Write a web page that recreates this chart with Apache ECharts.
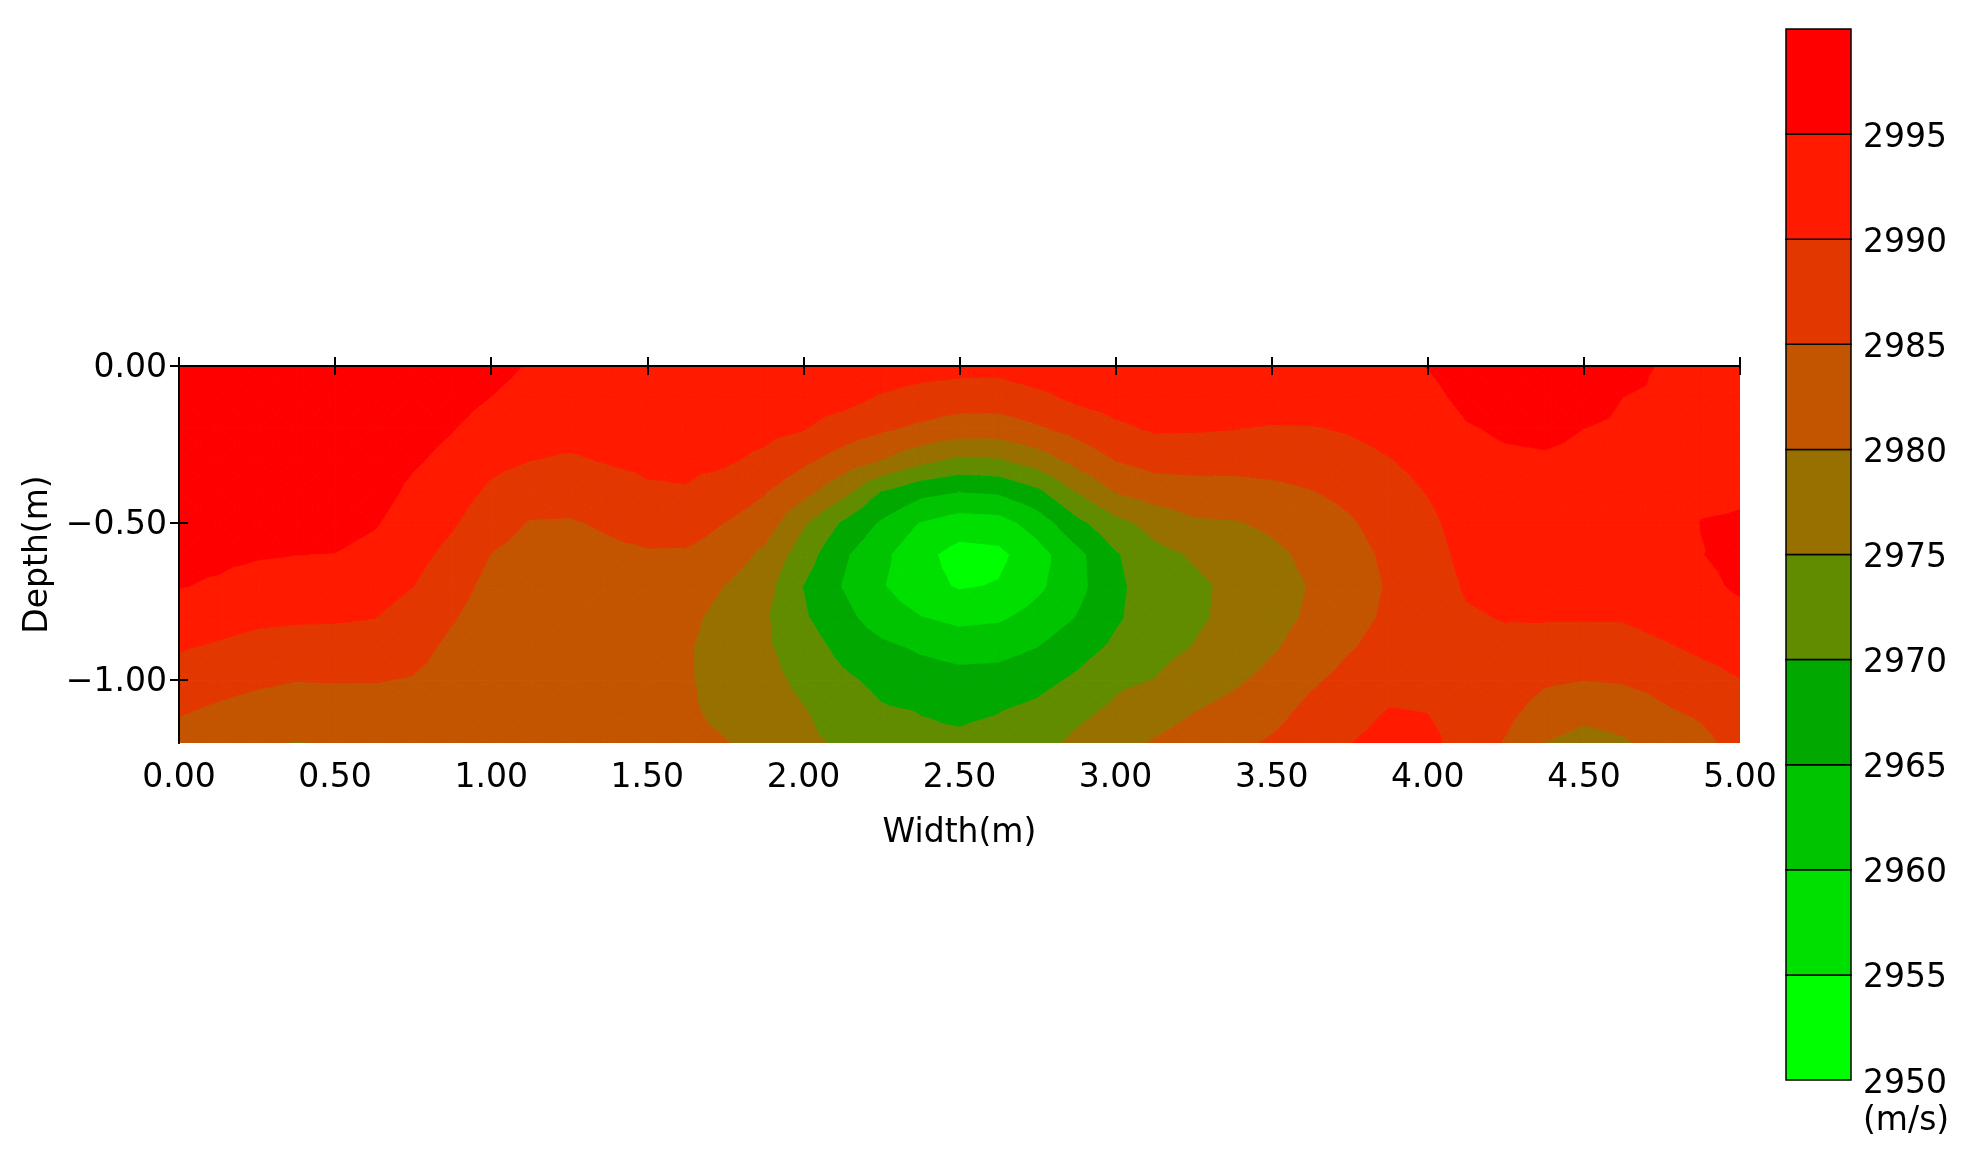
<!DOCTYPE html>
<html>
<head>
<meta charset="utf-8">
<title>Velocity contour</title>
<script src="https://cdn.jsdelivr.net/npm/echarts@6/dist/echarts.min.js"></script>
<style>
  html, body { margin: 0; padding: 0; background: #ffffff; }
  #chart { width: 1964px; height: 1165px; }
</style>
</head>
<body>
<div id="chart"></div>
<script>
// grid node positions (m)
const widthPos = [0, 0.125, 0.25, 0.375, 0.5, 0.625, 0.75, 0.875, 1, 1.125, 1.25, 1.375, 1.5, 1.625, 1.75, 1.875, 2, 2.125, 2.25, 2.375, 2.5,
  2.625, 2.75, 2.875, 3, 3.125, 3.25, 3.375, 3.5, 3.625, 3.75, 3.875, 4, 4.125, 4.25, 4.375, 4.5, 4.625, 4.75, 4.875, 5];
const depthPos = [0, -0.1, -0.2, -0.3, -0.4, -0.5, -0.6, -0.7, -0.8, -0.9, -1.0, -1.1, -1.2];

// velocity (m/s), one row per depth
const row_000 = [2998.5, 2998.6, 2998.7, 2998.8, 2998.8, 2998.7, 2998.3, 2997.8, 2996.6, 2994.6, 2994.3, 2994.2, 2994.2, 2994.2, 2993.8, 2993.6, 2993.5, 2993.2, 2993.0, 2992.0, 2991.5,
  2991.3, 2993.0, 2993.8, 2994.0, 2994.2, 2994.3, 2994.4, 2994.5, 2994.6, 2994.4, 2994.3, 2995.1, 2997.0, 2997.8, 2998.3, 2998.0, 2996.8, 2994.6, 2994.5, 2994.6];
const row_010 = [2998.4, 2998.5, 2998.6, 2998.7, 2998.7, 2998.5, 2997.8, 2996.6, 2994.95, 2993.2, 2993.0, 2993.0, 2993.2, 2993.2, 2993.0, 2992.6, 2992.4, 2991.8, 2989.5, 2988.2, 2987.5,
  2987.6, 2988.8, 2991.0, 2992.0, 2992.6, 2992.9, 2992.8, 2992.5, 2992.6, 2992.6, 2993.2, 2993.9, 2996.0, 2996.8, 2997.3, 2996.9, 2995.0, 2994.3, 2994.4, 2994.6];
const row_020 = [2998.2, 2998.3, 2998.4, 2998.5, 2998.5, 2998.2, 2997.0, 2995.2, 2993.1, 2991.6, 2991.5, 2991.7, 2992.1, 2992.1, 2991.9, 2991.3, 2990.2, 2987.6, 2985.7, 2984.0, 2982.5,
  2982.4, 2984.3, 2986.6, 2989.1, 2990.5, 2990.4, 2990.1, 2989.6, 2989.7, 2990.4, 2991.5, 2992.6, 2994.7, 2995.5, 2995.8, 2995.0, 2994.3, 2994.0, 2994.3, 2994.6];
const row_030 = [2997.8, 2997.9, 2998.0, 2998.1, 2998.1, 2997.7, 2995.6, 2993.6, 2991.2, 2990.05, 2989.5, 2990.3, 2990.9, 2990.9, 2990.6, 2989.0, 2986.0, 2982.9, 2979.9, 2976.4, 2973.9,
  2974.5, 2977.4, 2981.6, 2985.1, 2986.8, 2987.0, 2986.7, 2986.7, 2987.3, 2988.4, 2989.8, 2991.4, 2993.9, 2994.4, 2994.6, 2994.3, 2993.7, 2993.8, 2994.4, 2994.7];
const row_040 = [2997.3, 2997.3, 2997.4, 2997.5, 2997.5, 2996.9, 2994.0, 2992.05, 2989.2, 2987.3, 2986.9, 2988.0, 2989.4, 2989.7, 2988.0, 2985.3, 2981.6, 2976.6, 2969.9, 2966.4, 2965.0,
  2965.6, 2968.9, 2975.2, 2980.2, 2982.3, 2982.8, 2983.2, 2983.9, 2984.8, 2986.2, 2988.2, 2990.2, 2993.0, 2993.5, 2993.7, 2993.5, 2993.2, 2993.6, 2994.6, 2994.8];
const row_050 = [2996.7, 2996.6, 2996.5, 2996.6, 2996.7, 2995.4, 2992.7, 2990.5, 2987.1, 2984.7, 2984.6, 2985.6, 2986.9, 2987.1, 2984.9, 2982.5, 2975.6, 2969.4, 2964.3, 2959.7, 2957.5,
  2957.9, 2962.2, 2968.6, 2973.5, 2976.8, 2979.3, 2979.6, 2980.8, 2982.6, 2984.5, 2986.8, 2988.9, 2992.1, 2992.6, 2992.8, 2992.8, 2992.7, 2993.4, 2995.05, 2995.15];
const row_060 = [2996.0, 2995.9, 2995.4, 2995.05, 2994.9, 2993.6, 2991.4, 2988.8, 2984.9, 2983.3, 2983.2, 2984.0, 2984.5, 2984.4, 2982.8, 2978.9, 2972.4, 2965.8, 2961.2, 2956.4, 2953.2,
  2953.8, 2958.0, 2963.5, 2969.5, 2973.5, 2975.5, 2977.3, 2979.0, 2981.0, 2983.6, 2985.7, 2988.2, 2991.2, 2991.8, 2992.0, 2992.1, 2992.1, 2993.0, 2994.9, 2996.0];
const row_070 = [2995.2, 2994.5, 2993.2, 2992.8, 2992.7, 2991.8, 2990.05, 2987.1, 2983.4, 2982.4, 2982.3, 2982.8, 2983.0, 2982.3, 2979.9, 2976.8, 2969.9, 2964.8, 2960.4, 2956.7, 2954.5,
  2955.3, 2958.9, 2963.3, 2968.9, 2972.5, 2974.0, 2976.0, 2978.3, 2980.2, 2983.3, 2985.3, 2987.9, 2990.4, 2991.0, 2991.2, 2991.3, 2991.3, 2992.3, 2994.0, 2995.6];
const row_080 = [2992.9, 2991.9, 2990.9, 2990.6, 2990.5, 2990.1, 2988.3, 2985.4, 2982.5, 2981.9, 2981.8, 2982.0, 2982.0, 2981.0, 2978.6, 2975.6, 2970.6, 2966.5, 2962.5, 2960.1, 2958.6,
  2959.2, 2961.8, 2965.1, 2969.3, 2972.6, 2974.2, 2976.1, 2978.5, 2980.6, 2983.7, 2985.6, 2987.9, 2989.6, 2990.2, 2990.3, 2990.3, 2990.3, 2991.5, 2992.9, 2993.8];
const row_090 = [2990.25, 2989.3, 2988.4, 2987.9, 2987.9, 2987.6, 2986.6, 2983.8, 2982.0, 2981.6, 2981.5, 2981.5, 2981.3, 2980.4, 2978.2, 2975.8, 2972.5, 2968.7, 2966.2, 2964.4, 2963.1,
  2963.4, 2965.1, 2968.0, 2971.0, 2973.5, 2975.2, 2977.0, 2979.5, 2982.0, 2984.7, 2986.6, 2988.3, 2988.7, 2989.0, 2988.3, 2987.8, 2988.3, 2989.3, 2990.7, 2991.8];
const row_100 = [2987.6, 2986.7, 2985.8, 2985.1, 2985.25, 2985.2, 2984.7, 2983.0, 2981.7, 2981.4, 2981.3, 2981.2, 2980.9, 2980.4, 2978.4, 2976.5, 2973.9, 2970.9, 2968.8, 2967.3, 2966.7,
  2966.9, 2968.4, 2970.8, 2974.0, 2975.1, 2977.6, 2979.2, 2981.3, 2984.2, 2986.6, 2988.3, 2989.0, 2988.2, 2987.8, 2985.7, 2985.0, 2985.4, 2986.6, 2988.3, 2989.9];
const row_110 = [2985.4, 2984.2, 2983.1, 2982.4, 2982.5, 2982.6, 2983.2, 2982.5, 2981.5, 2981.3, 2981.2, 2981.0, 2980.7, 2980.6, 2979.0, 2977.3, 2975.3, 2972.7, 2970.5, 2969.9, 2969.5,
  2969.9, 2971.2, 2973.8, 2976.0, 2978.0, 2979.9, 2981.4, 2983.4, 2986.3, 2988.4, 2990.2, 2989.9, 2988.0, 2986.3, 2982.9, 2981.3, 2982.0, 2984.3, 2985.8, 2988.4];
const row_120 = [2983.0, 2981.8, 2980.7, 2979.8, 2980.3, 2980.6, 2981.8, 2982.2, 2981.4, 2981.2, 2981.1, 2980.9, 2980.6, 2980.9, 2980.2, 2978.1, 2976.0, 2974.3, 2971.5, 2970.6, 2970.5,
  2971.0, 2973.5, 2976.0, 2978.1, 2980.4, 2981.8, 2983.7, 2985.6, 2987.8, 2989.9, 2991.5, 2991.2, 2987.9, 2984.6, 2979.9, 2978.3, 2979.4, 2981.6, 2983.5, 2987.0];
const velocityRows = [row_000, row_010, row_020, row_030, row_040, row_050, row_060, row_070, row_080, row_090, row_100, row_110, row_120];

// contour levels and band colours (low -> high)
const levels = [2950, 2955, 2960, 2965, 2970, 2975, 2980, 2985, 2990, 2995, 3000];
const bandColors = ['#00ff00', '#00e000', '#00c400', '#00a800', '#628c00', '#977000', '#c35500', '#e33700', '#ff1a00', '#ff0000'];
const widthTicks = [0, 0.5, 1, 1.5, 2, 2.5, 3, 3.5, 4, 4.5, 5];
const depthTicks = [0, -0.5, -1];

const FONT = 'DejaVu Sans';
const chart = echarts.init(document.getElementById('chart'));

// cut a polygon (points carry value v) at one level
function clipAt(pts, lvl, keepAbove) {
  const out = [];
  for (let k = 0; k < pts.length; k++) {
    const a = pts[k];
    const b = pts[(k + 1) % pts.length];
    const ain = keepAbove ? a.v >= lvl : a.v < lvl;
    const bin = keepAbove ? b.v >= lvl : b.v < lvl;
    if (ain) out.push(a);
    if (ain !== bin) {
      const t = (lvl - a.v) / (b.v - a.v);
      out.push({ x: a.x + t * (b.x - a.x), y: a.y + t * (b.y - a.y), v: lvl });
    }
  }
  return out;
}

// filled bands of one triangle
function triangleBands(tri, children) {
  const vs = tri.map(p => p.v);
  const vmin = Math.min(...vs), vmax = Math.max(...vs);
  for (let b = 0; b < bandColors.length; b++) {
    const lo = b === 0 ? -Infinity : levels[b];
    const hi = b === bandColors.length - 1 ? Infinity : levels[b + 1];
    if (vmax < lo || vmin >= hi) continue;
    let poly = tri;
    if (lo > -Infinity) poly = clipAt(poly, lo, true);
    if (poly.length > 2 && hi < Infinity) poly = clipAt(poly, hi, false);
    if (poly.length < 3) continue;
    children.push({
      type: 'polygon',
      shape: { points: poly.map(p => [p.x, p.y]) },
      style: { fill: bandColors[b], stroke: bandColors[b], lineWidth: 1 }
    });
  }
}

// one item per grid cell
const cells = [];
for (let j = 0; j < depthPos.length - 1; j++) {
  for (let i = 0; i < widthPos.length - 1; i++) {
    cells.push([i, j]);
  }
}

function renderCell(params, api) {
  const i = api.value(0), j = api.value(1);
  const node = (ii, jj) => {
    const p = api.coord([widthPos[ii], depthPos[jj]]);
    return { x: p[0], y: p[1], v: velocityRows[jj][ii] };
  };
  const a = node(i, j), b = node(i + 1, j), c = node(i + 1, j + 1), d = node(i, j + 1);
  const m = { x: (a.x + c.x) / 2, y: (a.y + c.y) / 2, v: (a.v + b.v + c.v + d.v) / 4 };
  const children = [];
  triangleBands([a, b, m], children);
  triangleBands([b, c, m], children);
  triangleBands([c, d, m], children);
  triangleBands([d, a, m], children);
  return { type: 'group', children: children };
}

function renderBand(params, api) {
  const b = api.value(0);
  const p1 = api.coord([0, levels[b + 1]]);
  const p2 = api.coord([1, levels[b]]);
  return {
    type: 'rect',
    shape: { x: p1[0], y: p1[1], width: p2[0] - p1[0], height: p2[1] - p1[1] },
    style: { fill: bandColors[b], stroke: '#000', lineWidth: 1.5 }
  };
}

const axisText = { color: '#000', fontFamily: FONT, fontSize: 33 };
const blackLine = { show: true, lineStyle: { color: '#000', width: 2 } };
const outTick = { show: true, inside: false, length: 9, lineStyle: { color: '#000', width: 2 } };
// rich style used to nudge labels down a little
const lowered = (pad) => ({ t: Object.assign({ padding: [pad, 0, 0, 0] }, axisText) });

const option = {
  animation: false,
  backgroundColor: '#ffffff',
  grid: [
    { left: 179, top: 366, width: 1561, height: 377 },
    { left: 1786, top: 29, width: 65, height: 1051 }
  ],
  xAxis: [
    {
      gridIndex: 0, type: 'value', position: 'bottom', min: 0, max: 5, interval: 0.5, z: 10,
      axisLine: blackLine, axisTick: outTick, splitLine: { show: false },
      axisLabel: Object.assign({ margin: 19, formatter: v => v.toFixed(2) }, axisText),
      name: 'Width(m)', nameLocation: 'middle', nameGap: 74, nameTextStyle: axisText
    },
    {
      gridIndex: 0, type: 'value', position: 'top', min: 0, max: 5, interval: 0.5, z: 10,
      axisLine: blackLine, axisTick: outTick, splitLine: { show: false }, axisLabel: { show: false }
    },
    {
      // hidden axis under the colour bar, only carries the unit text
      gridIndex: 1, type: 'value', min: 0, max: 1, offset: 41,
      axisLine: { show: false }, axisTick: { show: false }, axisLabel: { show: false }, splitLine: { show: false },
      name: '(m/s)', nameLocation: 'end', nameGap: 12, nameTextStyle: axisText
    }
  ],
  yAxis: [
    {
      gridIndex: 0, type: 'value', position: 'left', min: -1.2, max: 0, z: 10,
      axisLine: blackLine, splitLine: { show: false },
      axisTick: Object.assign({ customValues: depthTicks }, outTick),
      axisLabel: Object.assign({
        margin: 12, customValues: depthTicks, rich: lowered(5),
        formatter: v => '{t|' + (v < 0 ? '\u2212' : '') + Math.abs(v).toFixed(2) + '}'
      }, axisText),
      name: 'Depth(m)', nameLocation: 'middle', nameGap: 124, nameTextStyle: axisText
    },
    {
      gridIndex: 0, type: 'value', position: 'right', min: -1.2, max: 0, z: 10,
      axisLine: blackLine, splitLine: { show: false },
      axisTick: Object.assign({ customValues: depthTicks }, outTick),
      axisLabel: { show: false }
    },
    {
      gridIndex: 1, type: 'value', position: 'right', min: 2950, max: 3000, interval: 5,
      axisLine: { show: false }, axisTick: { show: false }, splitLine: { show: false },
      axisLabel: Object.assign({
        margin: 12, rich: lowered(8),
        formatter: v => (v >= 3000 ? '' : '{t|' + v + '}')
      }, axisText)
    }
  ],
  series: [
    {
      type: 'custom', xAxisIndex: 0, yAxisIndex: 0, clip: true, z: 1,
      renderItem: renderCell, data: cells
    },
    {
      type: 'custom', xAxisIndex: 2, yAxisIndex: 2, z: 1,
      renderItem: renderBand, data: bandColors.map((c, b) => [b])
    }
  ]
};

chart.setOption(option);
</script>
</body>
</html>
